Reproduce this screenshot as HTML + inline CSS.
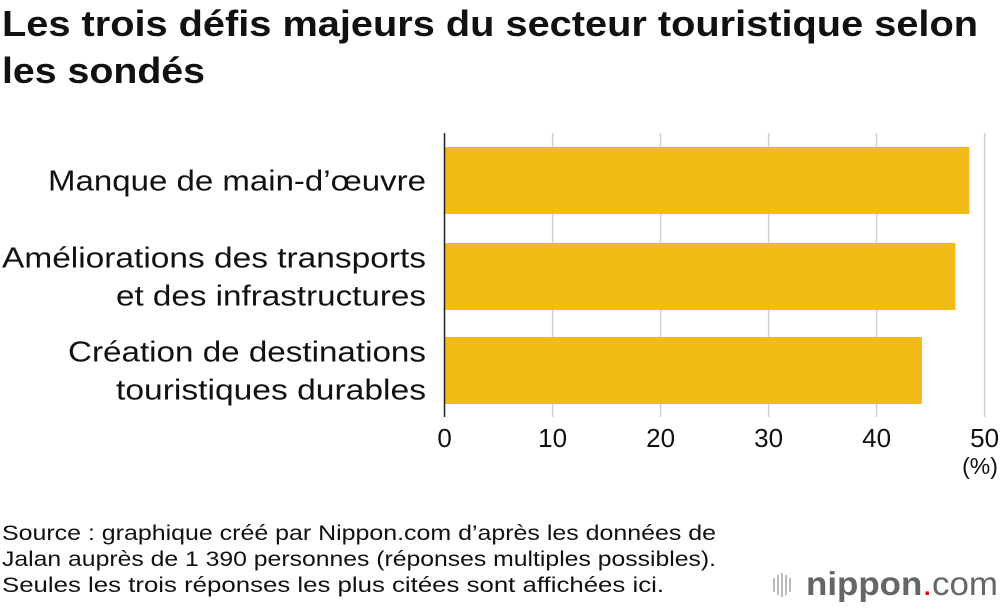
<!DOCTYPE html>
<html><head><meta charset="utf-8"><style>
body{margin:0;background:#fff;width:1000px;height:610px;overflow:hidden;font-family:"Liberation Sans",Arial,sans-serif;}
</style></head><body>
<svg width="1000" height="610" xmlns="http://www.w3.org/2000/svg">
<text x="2" y="36" font-size="36" font-weight="bold" fill="#111" textLength="976" lengthAdjust="spacingAndGlyphs">Les trois défis majeurs du secteur touristique selon</text>
<text x="2" y="83" font-size="36" font-weight="bold" fill="#111" textLength="203" lengthAdjust="spacingAndGlyphs">les sondés</text>
<g id="grid"></g>
<g id="bars"></g>
<line x1="444.5" y1="133" x2="444.5" y2="417" stroke="#222" stroke-width="1.5"/>
<g id="labels" font-size="29" fill="#111" text-anchor="end"></g>
<g id="ticks" font-size="26" fill="#111" text-anchor="middle"></g>
<text x="980" y="474" font-size="23" text-anchor="middle" fill="#111">(%)</text>
<g font-size="21" fill="#111">
<text x="2" y="540" textLength="714" lengthAdjust="spacingAndGlyphs">Source : graphique créé par Nippon.com d’après les données de</text>
<text x="2" y="566" textLength="714" lengthAdjust="spacingAndGlyphs">Jalan auprès de 1 390 personnes (réponses multiples possibles).</text>
<text x="2" y="592" textLength="662" lengthAdjust="spacingAndGlyphs">Seules les trois réponses les plus citées sont affichées ici.</text>
</g>
<g>
<g fill="#bbb">
<rect x="773" y="578" width="2" height="14"/><rect x="777" y="575" width="2" height="20"/><rect x="781" y="573" width="2" height="24"/><rect x="785" y="575" width="2" height="20"/><rect x="789" y="578" width="2" height="14"/></g>
<text x="806" y="595" font-size="33" fill="#666" textLength="192" lengthAdjust="spacingAndGlyphs"><tspan font-weight="bold">nippon</tspan><tspan fill="#e60012">.</tspan><tspan>com</tspan></text>
</g>
</svg>
<script>
const categories=[["Manque de main-d’œuvre"],["Améliorations des transports","et des infrastructures"],["Création de destinations","touristiques durables"]];
const values=[48.6,47.3,44.2];
const ticks=[0,10,20,30,40,50];
const widths={"Manque de main-d’œuvre":378,"Améliorations des transports":424,"et des infrastructures":310,"Création de destinations":358,"touristiques durables":310};
const NS="http://www.w3.org/2000/svg";
const x=v=>444.6+v*10.8;
const bandTop=[147,243,337];
const bandH=67;
function mk(t,a,p){const e=document.createElementNS(NS,t);for(const k in a)e.setAttribute(k,a[k]);p.appendChild(e);return e;}
const grid=document.getElementById('grid'),bars=document.getElementById('bars'),labels=document.getElementById('labels'),tk=document.getElementById('ticks');
ticks.forEach(t=>{
 if(t>0){const l=mk('line',{x1:x(t),x2:x(t),y1:133,y2:417,stroke:'#cfcfcf','stroke-width':1.5},grid);
 
 }
 const tx=mk('text',{x:x(t),y:447},tk);tx.textContent=t;
 
 
});
values.forEach((v,i)=>{
 const r=mk('rect',{x:x(0),y:bandTop[i],width:x(v)-x(0),height:bandH,fill:'#f0bc15'},bars);
 
 
 const lines=categories[i];const cy=bandTop[i]+bandH/2;
 lines.forEach((s,j)=>{
  const t=mk('text',{x:426,y:cy+10+(j-(lines.length-1)/2)*38,textLength:widths[s],lengthAdjust:'spacingAndGlyphs'},labels);t.textContent=s;
  
  
 });
});
</script>
</body></html>
